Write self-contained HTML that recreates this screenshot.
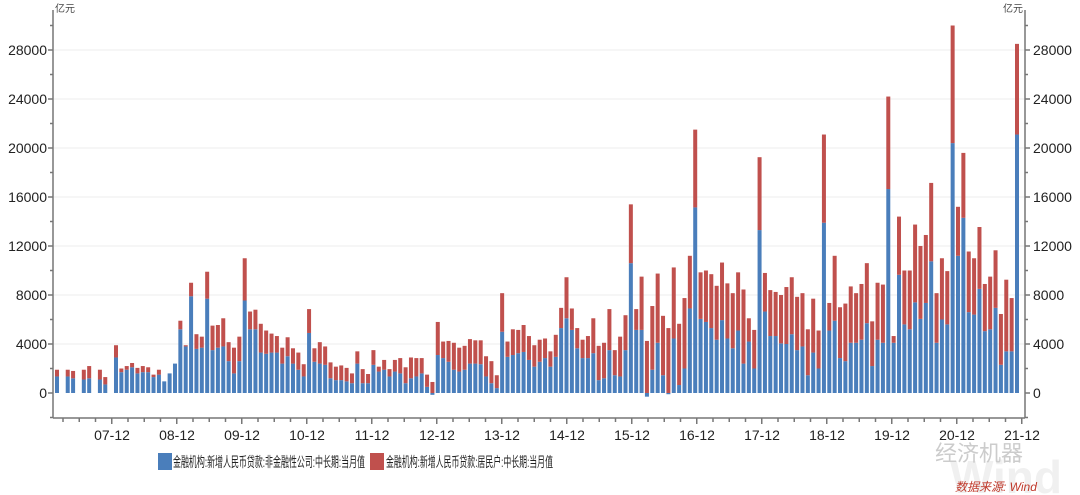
<!DOCTYPE html>
<html><head><meta charset="utf-8">
<style>
body{margin:0;background:#fff;width:1080px;height:495px;overflow:hidden;font-family:"Liberation Sans","Noto Sans CJK SC",sans-serif;}
svg{position:absolute;left:0;top:0}
</style></head><body>
<svg id="c" width="1080" height="495" xmlns="http://www.w3.org/2000/svg" font-family="Liberation Sans, Noto Sans CJK SC, sans-serif">
<text x="55" y="12" font-size="10" fill="#444">亿元</text>
<text x="1003" y="12" font-size="10" fill="#444">亿元</text>
<g id="grid"></g>
<g id="bars"></g>
<g id="axes" stroke="#777" stroke-width="1.5"></g>
<g id="lbl" font-size="14" fill="#222"></g>
<rect x="158" y="453" width="14" height="17" fill="#4a7ebb"/>
<text x="173" y="467" font-size="14" fill="#222" textLength="192" lengthAdjust="spacingAndGlyphs">金融机构:新增人民币贷款:非金融性公司:中长期:当月值</text>
<rect x="370" y="453" width="14" height="17" fill="#c0504d"/>
<text x="386" y="467" font-size="14" fill="#222" textLength="167" lengthAdjust="spacingAndGlyphs">金融机构:新增人民币贷款:居民户:中长期:当月值</text>
<text x="950" y="493" font-size="46" fill="#f0f0f0" font-weight="bold">Wind</text>
<text x="935" y="461" font-size="22" fill="#ccc">经济机器</text>
<text x="955" y="491" font-size="12" fill="#c0392b" font-style="italic">数据来源: Wind</text>
</svg>
<script>
var d=[[1900,1350],[0,0],[1900,1350],[1800,1200],[0,0],[1900,1100],[2200,1200],[0,0],[1900,1100],[1300,700],[0,0],
[3900,2900],[2000,1700],[2200,1900],[2450,2100],[2050,1600],[2200,1700],[2100,1700],[1500,1300],[1900,1500],[950,950],[1600,1600],[2400,2400],
[5900,5200],[3900,3800],[9000,7900],[4800,3600],[4600,3700],[9900,7700],[5500,3500],[5550,3700],[6100,3800],[4150,2600],[3700,1600],[4600,2600],
[11000,7550],[6650,5200],[6800,5200],[5650,3300],[5100,3200],[4850,3300],[4650,3300],[3700,2400],[4550,3000],[3650,2400],
[3300,1900],[2350,1350],[6850,4900],[3650,2550],[4150,2400],[3800,2300],[2500,1200],[2150,1050],[2250,1050],[2050,950],[1600,800],[3400,2400],[1950,800],[1550,800],[3500,2300],[2150,1750],[2700,1900],[1950,1350],[2700,1750],[2850,1600],[2100,800],[2900,1200],[2850,1350],[2850,1600],[1500,500],[900,-150],
[5800,3100],[4200,2850],[4250,2550],[4100,1900],[3700,1750],[3850,1900],[4400,2400],[4300,2400],[4300,2350],[3000,1350],[2600,800],[1450,400],
[8150,5000],[4200,2950],[5200,3100],[5150,3250],[5550,3350],[4650,2700],[3900,2150],[4350,2550],[4450,2850],[3400,2150],[4750,2950],[6950,5300],[9450,6100],[6900,5150],[5300,3650],[4350,2850],[4650,2850],
[6100,3250],[3850,1050],[4100,1200],[6850,3500],[3500,1450],[4600,1350],[6350,3500],[15400,10600],[6850,5150],[9500,5150],[4250,-300],[7100,1900],[9750,4100],[6300,1450],[5300,-100],[10250,4450],[5650,650],[7750,2000],[11200,6900],[21500,15150],
[9850,6050],[10000,5800],[9700,5300],[8750,4350],[10650,5950],[8950,4450],[8150,3650],[9850,5100],[8450,2400],[6100,4200],[5150,2000],[19250,13300],[9800,6650],[8400,4650],[8250,4650],[8000,4050],[8650,4000],[9450,4800],[7850,3500],[8150,3800],[5200,1450],[7700,3300],[5100,2000],
[21100,13900],[7350,5100],[11200,5900],[7000,2850],[7300,2600],[8700,4100],[8150,4100],[8900,4350],[10600,5700],[5850,2200],[9000,4350],[8850,4100],[24200,16650],[4650,4100],[14400,9650],[10000,5600],[10000,5200],[13750,7400],[12000,6050],[12900,7350],[17150,10750],[8150,4100],[11000,6000],[9950,5600],[30000,20400],[15200,11200],[19600,14300],[11550,6600],[11000,6400],[13550,8500],[8900,5050],[9500,5200],[11650,6950],[6450,2300],[9250,3400],[7750,3400],[28500,21100]];
var Y0=393,k=12.25/1000,ns="http://www.w3.org/2000/svg";
function el(p,t,a){var e=document.createElementNS(ns,t);for(var q in a)e.setAttribute(q,a[q]);document.getElementById(p).appendChild(e);return e;}
var n=d.length,x0=57,pitch=(1017-57)/(n-1),w=4;
for(var i=0;i<n;i++){var t=d[i][0],b=d[i][1];if(!t&&!b)continue;var x=x0+i*pitch-w/2;
 if(b>=0){el('bars','rect',{x:x,y:Y0-b*k,width:w,height:b*k,fill:'#4a7ebb'});el('bars','rect',{x:x,y:Y0-t*k,width:w,height:(t-b)*k,fill:'#c0504d'});}
 else{el('bars','rect',{x:x,y:Y0,width:w,height:-b*k,fill:'#4a7ebb'});el('bars','rect',{x:x,y:Y0-t*k,width:w,height:t*k,fill:'#c0504d'});}}
for(var v=0;v<=28000;v+=4000){var y=Y0-v*k;
 if(v>0)el('grid','line',{x1:54,x2:1024,y1:y,y2:y,stroke:'#eee','stroke-width':1});
 var a=el('lbl','text',{x:47,y:y+5,'text-anchor':'end'});a.textContent=v;
 var b2=el('lbl','text',{x:1033,y:y+5});b2.textContent=v;}
for(var v=-2000;v<=30000;v+=2000){var y=Y0-v*k,L=v%4000==0?5:3;
 el('axes','line',{x1:53-L,x2:53,y1:y,y2:y});el('axes','line',{x1:1025,x2:1025+L,y1:y,y2:y});}
el('axes','line',{x1:53,x2:53,y1:10,y2:418});el('axes','line',{x1:1025,x2:1025,y1:10,y2:418});
el('axes','line',{x1:53,x2:1025,y1:418,y2:418});
for(var j=0;;j++){var x=63+j*65/4;if(x>1024)break;el('axes','line',{x1:x,x2:x,y1:418,y2:j%4==3?424:422});}
for(var yr=7;yr<=21;yr++){var x=112+(yr-7)*65;var a=el('lbl','text',{x:x,y:440,'text-anchor':'middle'});a.textContent=(yr<10?'0':'')+yr+'-12';}
</script>
</body></html>
